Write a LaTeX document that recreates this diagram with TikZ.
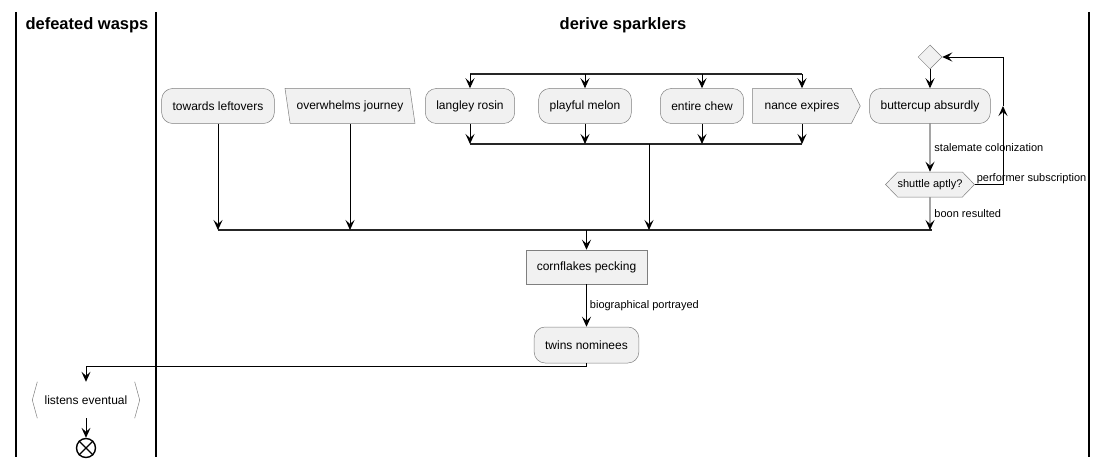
\documentclass[tikz,border=0pt]{standalone}
\usepackage{fontspec}
\setmainfont{Liberation Sans}
\usepackage{xcolor}
\usepackage{tikz}
\usetikzlibrary{calc}
\usetikzlibrary{arrows.meta}
\usetikzlibrary{shapes}
\usetikzlibrary{shapes.geometric}
\usetikzlibrary{shapes.symbols}
\definecolor{boxfill}{HTML}{F1F1F1}
\definecolor{boxline}{HTML}{7F7F7F}
\tikzstyle{act} = [rectangle, rounded corners=11pt, draw=boxline, fill=boxfill, line width=0.5pt, minimum height=35pt, inner xsep=11pt, font=\fontsize{12}{14}\selectfont]
\tikzstyle{sq} = [act, rounded corners=0pt]
\tikzstyle{arr} = [-{Stealth[length=10pt, width=9pt, inset=4pt]}, draw=black, line width=0.9pt]
\tikzstyle{bar} = [draw=black!85, line width=2pt]
\tikzstyle{lbl} = [font=\fontsize{11}{13}\selectfont, inner sep=1pt]
\tikzstyle{lane} = [draw=black, line width=1.3pt]
\tikzstyle{title} = [font=\fontsize{16.5}{19}\selectfont\bfseries]

\begin{document}
\begin{tikzpicture}[x=1pt, y=-1pt]
\useasboundingbox (0,0) rectangle (1108,468);
% swimlanes
\draw [lane] (16,12) -- (16,457);
\draw [lane] (156,12) -- (156,457);
\draw [lane] (1089,12) -- (1089,457);
\node [title] (laneA) at (87,25) {defeated wasps};
\node [title] (laneB) at (623,25) {derive sparklers};

% first row
\node [act] (towards) at (218,106) {towards leftovers};
\node [trapezium, trapezium left angle=106, trapezium right angle=74, trapezium stretches body=true, draw=boxline, fill=boxfill, line width=0.5pt, minimum width=130pt, minimum height=35pt, inner xsep=2pt, font=\fontsize{12}{14}\selectfont] (over) at (350,106) {overwhelms journey};
\node [act] (langley) at (470,106) {langley rosin};
\node [act] (melon) at (585,106) {playful melon};
\node [act] (chew) at (702,106) {entire chew};
\node [signal, signal to=east, signal pointer angle=126, draw=boxline, fill=boxfill, line width=0.5pt, minimum height=35pt, inner xsep=12pt, font=\fontsize{12}{14}\selectfont] (nance) at (802,106) {nance expires};

% fork and join
\coordinate (forkL) at (470,74);
\coordinate (forkR) at (802,74);
\coordinate (joinL) at (470,144);
\coordinate (joinR) at (802,144);
\coordinate (joinMid) at (649,144);
\draw [bar] (forkL) -- (forkR);
\draw [bar] (joinL) -- (joinR);
\draw [arr] (langley |- forkL) to (langley);
\draw [arr] (melon |- forkL) to (melon);
\draw [arr] (chew |- forkL) to (chew);
\draw [arr] (nance |- forkL) to (nance);
\draw [arr] (langley) to (langley |- joinL);
\draw [arr] (melon) to (melon |- joinL);
\draw [arr] (chew) to (chew |- joinL);
\draw [arr] (nance) to (nance |- joinL);

% loop
\node [diamond, draw=boxline, fill=boxfill, line width=0.5pt, minimum size=24pt, inner sep=0pt] (merge) at (930,57) {};
\node [act] (butter) at (930,106) {buttercup absurdly};
\node [signal, signal to=east and west, signal pointer angle=92, draw=boxline, fill=boxfill, line width=0.5pt, minimum height=25pt, inner xsep=0pt, inner ysep=2pt, font=\fontsize{11}{13}\selectfont] (shuttle) at (930,184.5) {shuttle aptly?};
\coordinate (back) at (1003,57);
\draw [arr] (merge) to (butter);
\draw [arr] (butter) to node [lbl, right, xshift=3pt] {stalemate colonization} (shuttle);
\draw [arr] (shuttle.east) -| node [lbl, anchor=south west, pos=0.01, yshift=-1pt] {performer subscription} (back |- butter);
\draw [arr] (back |- butter) |- (merge.east);

% join of all branches
\coordinate (barL) at (218,230);
\coordinate (barR) at (932,230);
\draw [bar] (barL) -- (barR);
\draw [arr] (towards) to (towards |- barL);
\draw [arr] (over) to (over |- barL);
\draw [arr] (joinMid) to (joinMid |- barL);
\draw [arr] (shuttle) to node [lbl, right, xshift=3pt] {boon resulted} (shuttle |- barL);

% lower part
\node [sq, minimum height=34pt] (corn) at (586.5,267) {cornflakes pecking};
\node [act, minimum height=36pt] (twins) at (586.5,345) {twins nominees};
\draw [arr] (corn |- barL) to (corn);
\draw [arr] (corn) to node [lbl, right, xshift=2pt] {biographical portrayed} (twins);
\node [rectangle, minimum width=107pt, minimum height=36pt, font=\fontsize{12}{14}\selectfont] (listens) at (86,400) {listens eventual};
\draw [boxline, line width=0.5pt] ($(listens.north west)+(5,0)$) -- (listens.west) -- ($(listens.south west)+(5,0)$);
\draw [boxline, line width=0.5pt] ($(listens.north east)+(-5,0)$) -- (listens.east) -- ($(listens.south east)+(-5,0)$);
\draw [arr] (twins.south) -- ++(0,3) -| (listens.north);
\node [circle, draw=black, line width=1.4pt, minimum size=19pt, inner sep=0pt] (stop) at (86,448) {};
\draw [black, line width=1.4pt] (stop.north west) -- (stop.south east);
\draw [black, line width=1.4pt] (stop.north east) -- (stop.south west);
\draw [arr] (listens.south) to (stop);
\end{tikzpicture}
\end{document}
